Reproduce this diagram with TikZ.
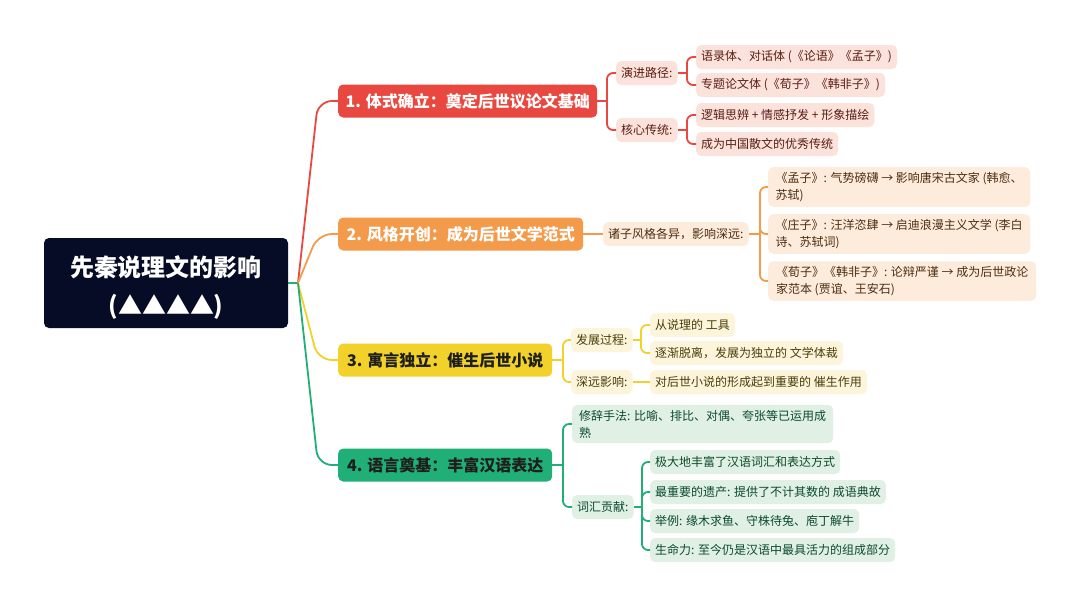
\documentclass[tikz,border=0pt]{standalone}
\usepackage{fontspec}
\setmainfont{Noto Sans CJK SC}
\definecolor{rootc}{HTML}{060C26}
\definecolor{redc}{HTML}{E8483F}
\definecolor{redl}{HTML}{FBE3DB}
\definecolor{redt}{HTML}{5A1C14}
\definecolor{orc}{HTML}{F39B4B}
\definecolor{orl}{HTML}{FDECDC}
\definecolor{ort}{HTML}{4E2C10}
\definecolor{yec}{HTML}{F2D12A}
\definecolor{yel}{HTML}{FCF5DC}
\definecolor{yet}{HTML}{4A3D08}
\definecolor{grc}{HTML}{21AF78}
\definecolor{grl}{HTML}{E0F0E5}
\definecolor{grt}{HTML}{0C4A2D}
\definecolor{darkt}{HTML}{1E1E1E}
\begin{document}
\begin{tikzpicture}[x=1pt,y=-1pt,
  conn/.style={line width=1.8pt, rounded corners=6pt},
  mainconn/.style={line width=1.8pt, rounded corners=14pt},
  mainbox/.style={rounded corners=5pt, minimum height=33pt, inner xsep=0pt, anchor=west, font=\bfseries\fontsize{16}{16}\selectfont},
  leaf/.style={rounded corners=5pt, minimum height=24pt, inner xsep=5pt, inner ysep=2pt, anchor=west, font=\fontsize{12}{14}\selectfont},
  leafml/.style={rounded corners=5pt, inner xsep=5pt, inner ysep=5pt, anchor=west, align=left, font=\fontsize{12}{17}\selectfont},
  redleaf/.style={fill=redl, text=redt},
  orleaf/.style={fill=orl, text=ort},
  yeleaf/.style={fill=yel, text=yet},
  grleaf/.style={fill=grl, text=grt},
]
\useasboundingbox (0,0) rectangle (1080,608);
\fill[white] (0,0) rectangle (1080,608);

% root
\node[fill=rootc, text=white, rounded corners=5pt, minimum width=244pt, minimum height=90pt, align=center,
  font=\bfseries\fontsize{24}{38}\selectfont] (root) at (166,283) {\rule{0pt}{30pt}先秦说理文的影响\\(▲▲▲▲)};
\coordinate (hub) at (298,283);

% main nodes
\node[mainbox, fill=redc, text=white, minimum width=259pt] (n1) at (338,101) {1. 体式确立：奠定后世议论文基础};
\node[mainbox, fill=orc, text=white, minimum width=245pt] (n2) at (338,234) {2. 风格开创：成为后世文学范式};
\node[mainbox, fill=yec, text=darkt, minimum width=214pt] (n3) at (338,360) {3. 寓言独立：催生后世小说};
\node[mainbox, fill=grc, text=darkt, minimum width=214pt] (n4) at (338,465) {4. 语言奠基：丰富汉语表达};

\draw[grc, line width=1.8pt] (root.east) -- (hub);
\draw[redc, mainconn] (hub) -- ([xshift=-20pt]n1.west) -- (n1.west);
\draw[orc, mainconn] (hub) -- ([xshift=-20pt]n2.west) -- (n2.west);
\draw[yec, mainconn] (hub) -- ([xshift=-20pt]n3.west) -- (n3.west);
\draw[grc, mainconn] (hub) -- ([xshift=-20pt]n4.west) -- (n4.west);

% branch 1
\coordinate (j1) at (607,101);
\node[leaf, redleaf] (a1) at (616,73) {演进路径:};
\node[leaf, redleaf] (a2) at (616,130) {核心传统:};
\coordinate (j11) at (687,73);
\coordinate (j12) at (687,130);
\node[leaf, redleaf] (l11) at (696,57) {语录体、对话体 (《论语》《孟子》)};
\node[leaf, redleaf] (l12) at (696,85) {专题论文体 (《荀子》《韩非子》)};
\node[leaf, redleaf] (l13) at (696,115) {逻辑思辨 + 情感抒发 + 形象描绘};
\node[leaf, redleaf] (l14) at (696,144) {成为中国散文的优秀传统};
\draw[redc, conn] (n1.east) -- (j1);
\draw[redc, conn] (j1) |- (a1.west);
\draw[redc, conn] (j1) |- (a2.west);
\draw[redc, conn] (a1.east) -- (j11);
\draw[redc, conn] (j11) |- (l11.west);
\draw[redc, conn] (j11) |- (l12.west);
\draw[redc, conn] (a2.east) -- (j12);
\draw[redc, conn] (j12) |- (l13.west);
\draw[redc, conn] (j12) |- (l14.west);

% branch 2
\node[leaf, orleaf] (b1) at (603,234) {诸子风格各异，影响深远:};
\coordinate (j2) at (760,234);
\node[leafml, orleaf, minimum width=262pt] (m1) at (768,187) {《孟子》: 气势磅礴 → 影响唐宋古文家 (韩愈、\\苏轼)};
\node[leafml, orleaf, minimum width=262pt] (m2) at (768,234) {《庄子》: 汪洋恣肆 → 启迪浪漫主义文学 (李白\\诗、苏轼词)};
\node[leafml, orleaf, minimum width=268pt] (m3) at (768,281) {《荀子》《韩非子》: 论辩严谨 → 成为后世政论\\家范本 (贾谊、王安石)};
\draw[orc, conn] (n2.east) -- (b1.west);
\draw[orc, conn] (b1.east) -- (j2);
\draw[orc, conn] (j2) |- (m1.west);
\draw[orc, conn] (j2) |- (m2.west);
\draw[orc, conn] (j2) |- (m3.west);

% branch 3
\coordinate (j3) at (563,360);
\node[leaf, yeleaf] (c1) at (571,340) {发展过程:};
\node[leaf, yeleaf] (c2) at (571,382) {深远影响:};
\coordinate (j31) at (641,340);
\node[leaf, yeleaf] (p1) at (650,325) {从说理的 工具};
\node[leaf, yeleaf] (p2) at (650,353) {逐渐脱离，发展为独立的 文学体裁};
\node[leaf, yeleaf] (p3) at (650,382) {对后世小说的形成起到重要的 催生作用};
\draw[yec, conn] (n3.east) -- (j3);
\draw[yec, conn] (j3) |- (c1.west);
\draw[yec, conn] (j3) |- (c2.west);
\draw[yec, conn] (c1.east) -- (j31);
\draw[yec, conn] (j31) |- (p1.west);
\draw[yec, conn] (j31) |- (p2.west);
\draw[yec, conn] (c2.east) -- (p3.west);

% branch 4
\coordinate (j4) at (563,465);
\node[leafml, grleaf, minimum width=261pt] (d1) at (572,424) {修辞手法: 比喻、排比、对偶、夸张等已运用成\\熟};
\node[leaf, grleaf] (d2) at (572,507) {词汇贡献:};
\coordinate (j41) at (642,507);
\node[leaf, grleaf] (q1) at (650,462) {极大地丰富了汉语词汇和表达方式};
\node[leaf, grleaf] (q2) at (650,492) {最重要的遗产: 提供了不计其数的 成语典故};
\node[leaf, grleaf] (q3) at (650,521) {举例: 缘木求鱼、守株待兔、庖丁解牛};
\node[leaf, grleaf] (q4) at (650,550) {生命力: 至今仍是汉语中最具活力的组成部分};
\draw[grc, conn] (n4.east) -- (j4);
\draw[grc, conn] (j4) |- (d1.west);
\draw[grc, conn] (j4) |- (d2.west);
\draw[grc, conn] (d2.east) -- (j41);
\draw[grc, conn] (j41) |- (q1.west);
\draw[grc, conn] (j41) |- (q2.west);
\draw[grc, conn] (j41) |- (q3.west);
\draw[grc, conn] (j41) |- (q4.west);
\end{tikzpicture}
\end{document}
